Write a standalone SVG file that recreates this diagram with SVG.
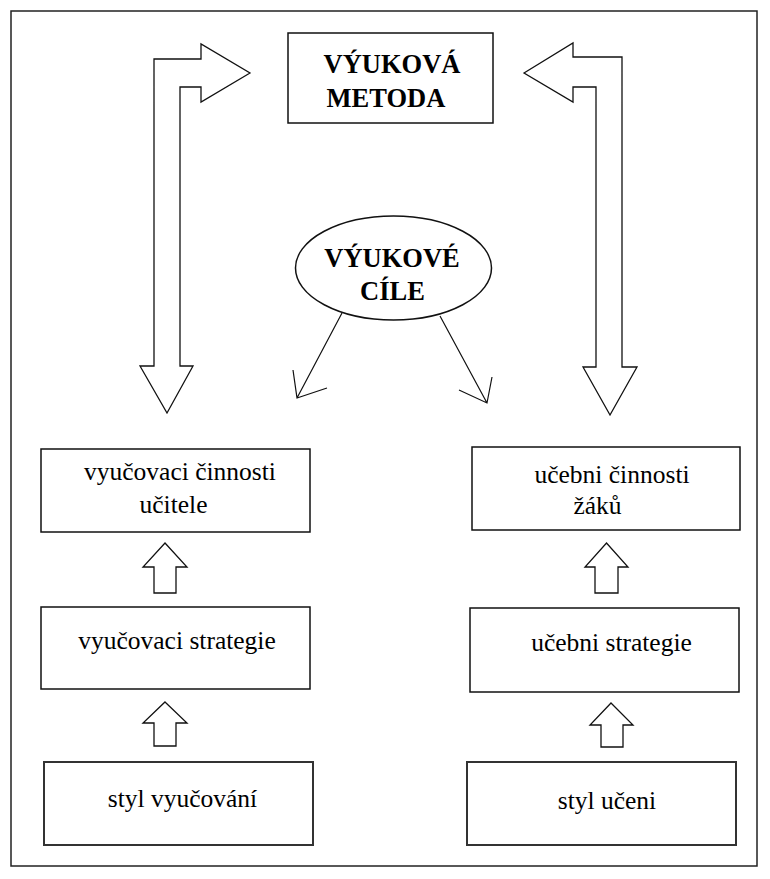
<svg xmlns="http://www.w3.org/2000/svg" width="770" height="879" viewBox="0 0 770 879">
  <style>
    .frame { fill: #ffffff; stroke: #222; stroke-width: 1.5; }
    .box { fill: #ffffff; stroke: #111; stroke-width: 1.5; }
    .box3 { fill: #ffffff; stroke: #333; stroke-width: 2; }
    .block { fill: #ffffff; stroke: #111; stroke-width: 1.3; stroke-linejoin: miter; }
    .thin { fill: none; stroke: #111; stroke-width: 1.2; }
    text { font-family: "Liberation Serif", "DejaVu Serif", serif; fill: #000; text-anchor: middle; }
    .t { font-size: 25.5px; }
    .tb { font-size: 26.5px; font-weight: bold; }
  </style>

  <!-- outer frame -->
  <rect class="frame" x="11" y="11" width="746" height="855"/>

  <g id="vyukova-metoda">
    <rect class="box" x="288" y="33" width="205" height="90"/>
    <text class="tb" x="392" y="73">VÝUKOVÁ</text>
    <text class="tb" x="386" y="107">METODA</text>
  </g>

  <g id="vyukove-cile">
    <ellipse class="box" cx="393.5" cy="268" rx="98" ry="52"/>
    <text class="tb" x="392" y="266.5">VÝUKOVÉ</text>
    <text class="tb" x="392.5" y="300">CÍLE</text>
  </g>

  <g id="vyucovaci-cinnosti">
    <rect class="box" x="41" y="449" width="269" height="83"/>
    <text class="t" x="180" y="480">vyučovaci činnosti</text>
    <text class="t" x="173.5" y="512.5">učitele</text>
  </g>

  <g id="vyucovaci-strategie">
    <rect class="box" x="41" y="607" width="269" height="82"/>
    <text class="t" x="177" y="649">vyučovaci strategie</text>
  </g>

  <g id="styl-vyucovani">
    <rect class="box3" x="44" y="762" width="269" height="83"/>
    <text class="t" x="182.5" y="806.5">styl vyučování</text>
  </g>

  <g id="ucebni-cinnosti">
    <rect class="box" x="472" y="447" width="268" height="83"/>
    <text class="t" x="612" y="482.5">učebni činnosti</text>
    <text class="t" x="597.5" y="514">žáků</text>
  </g>

  <g id="ucebni-strategie">
    <rect class="box" x="470" y="608" width="269" height="84"/>
    <text class="t" x="611.5" y="650.5">učebni strategie</text>
  </g>

  <g id="styl-uceni">
    <rect class="box3" x="467" y="762" width="269" height="83"/>
    <text class="t" x="607" y="809">styl učeni</text>
  </g>

  <g id="connectors">
    <!-- left bent double arrow: up to the method box, down to teacher activities -->
    <polygon class="block" points="250,73 201,102 201,87 180,87 180,366 193,366 167,413 140,366 154,366 154,59 201,59 201,44"/>
    <!-- right bent double arrow -->
    <polygon class="block" points="524,73 573,43 573,57 622,57 622,367 637,367 610,415 583,367 596,367 596,87 573,87 573,102"/>

    <!-- thin arrows from the goals ellipse -->
    <path class="thin" d="M342,313 L297,398 M293,370 L297,398 L327,388"/>
    <path class="thin" d="M440,316 L487,403 M492,377 L487,403 L459,390"/>

    <!-- small upward block arrows, left column -->
    <polygon class="block" points="165,543 187,567 176,567 176,593 154,593 154,567 143,567"/>
    <polygon class="block" points="165,702 187,723 176,723 176,746 154,746 154,723 143,723"/>

    <!-- small upward block arrows, right column -->
    <polygon class="block" points="606.5,543 628,567 618,567 618,593 595,593 595,567 585,567"/>
    <polygon class="block" points="611,703 633,725 623,725 623,747 601,747 601,725 590,725"/>
  </g>
</svg>
